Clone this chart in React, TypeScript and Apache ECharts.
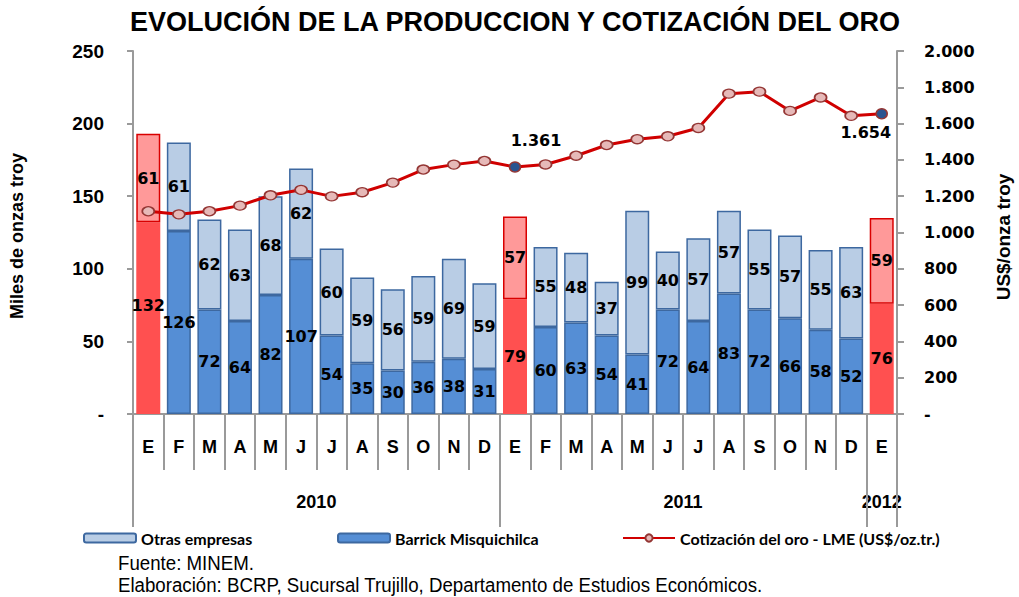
import React, { useEffect, useRef } from "react";
import * as echarts from "echarts";

const months = ["E","F","M","A","M","J","J","A","S","O","N","D","E","F","M","A","M","J","J","A","S","O","N","D","E"];
const years = ["2010", "2011", "2012"];
const barrick = [132,126,72,64,82,107,54,35,30,36,38,31,79,60,63,54,41,72,64,83,72,66,58,52,76];
const otras = [61,61,62,63,68,62,60,59,56,59,69,59,57,55,48,37,99,40,57,57,55,57,55,63,59];
const gold = [1117,1100,1117,1148,1205,1235,1199,1222,1275,1347,1374,1394,1361,1375,1423,1482,1514,1530,1576,1765,1776,1670,1744,1643,1654];
const labeledGold = [12, 24];

const title = "EVOLUCIÓN DE LA PRODUCCION Y COTIZACIÓN DEL ORO";
const leftName = "Miles de onzas troy";
const rightName = "US$/onza troy";
const sName = { otras: "Otras empresas", barrick: "Barrick Misquichilca", gold: "Cotización del oro - LME (US$/oz.tr.)" };
const source1 = "Fuente: MINEM.";
const source2 = "Elaboración: BCRP, Sucursal Trujillo, Departamento de Estudios Económicos.";

const fmt = (v: number) => {
  if (v === 0) return "-";
  if (v >= 1000) return Math.floor(v / 1000) + "." + String(v % 1000).padStart(3, "0");
  return String(v);
};

const categories = months.map((m, i) => m + "|" + i);

export default function App() {
  const ref = useRef<HTMLDivElement>(null);
  useEffect(() => {
    document.body.style.margin = "0";
    const chart = echarts.init(ref.current!, null, { renderer: "svg" });
    const isJan = (i: number) => months[i] === "E";
    const gray = "#9a9a9a";
    const barLabel = { show: true, position: "inside", fontFamily: "DejaVu Sans", fontWeight: "bold", fontSize: 16, color: "#000" };
    const legendText = { fontFamily: "Lato", fontWeight: "bold", fontSize: 16, color: "#000" };
    const option: any = {
      animation: false,
      grid: { left: 133, right: 122, top: 51, bottom: 183 },
      xAxis: [
        {
          type: "category", data: categories, position: "bottom",
          axisLine: { lineStyle: { color: gray, width: 2 } },
          axisTick: { show: true, interval: 0, length: 56, lineStyle: { color: gray, width: 2 } },
          axisLabel: { interval: 0, margin: 24, formatter: (v: string) => v.split("|")[0], fontFamily: "Liberation Sans, Arial", fontWeight: "bold", fontSize: 18, color: "#000" },
        },
        {
          type: "category", data: categories, position: "bottom",
          axisLine: { show: false },
          axisTick: { show: true, interval: (i: number) => i === 0 || i === 12 || i === 24, length: 113, lineStyle: { color: gray, width: 2 } },
          axisLabel: { show: false },
        },
      ],
      yAxis: [
        {
          type: "value", min: 0, max: 250, interval: 50,
          axisLine: { show: true, lineStyle: { color: gray, width: 2 } },
          axisTick: { show: true, length: 6, lineStyle: { color: gray, width: 2 } },
          splitLine: { show: false },
          axisLabel: { margin: 29, formatter: (v: number) => fmt(v), fontFamily: "Liberation Sans, Arial", fontWeight: "bold", fontSize: 19, color: "#000" },
        },
        {
          type: "value", min: 0, max: 2000, interval: 200, position: "right",
          axisLine: { show: true, lineStyle: { color: gray, width: 2 } },
          axisTick: { show: true, length: 7, lineStyle: { color: gray, width: 2 } },
          splitLine: { show: false },
          axisLabel: { margin: 27, formatter: (v: number) => fmt(v), fontFamily: "DejaVu Sans", fontWeight: "bold", fontSize: 16, color: "#000" },
        },
      ],
      legend: [
        { data: [sName.otras], left: 78, top: 525, itemWidth: 52, itemHeight: 9, itemGap: 0, textStyle: legendText },
        { data: [sName.barrick], left: 332, top: 525, itemWidth: 52, itemHeight: 9, itemGap: 0, textStyle: legendText },
        { data: [sName.gold], left: 617, top: 525, itemWidth: 52, itemHeight: 9, itemGap: 0, textStyle: legendText },
      ],
      series: [
        {
          name: sName.barrick, type: "bar", stack: "t", barWidth: 24,
          itemStyle: { color: "#558ed5", borderColor: "#3d68a0", borderWidth: 1.5 },
          label: barLabel,
          data: barrick.map((v, i) => isJan(i)
            ? { value: v, itemStyle: { color: "#ff5050", borderColor: "#ff5050" }, ...(i === 0 ? { label: { offset: [0, -13] } } : {}) }
            : v),
        },
        {
          name: sName.otras, type: "bar", stack: "t", barWidth: 24,
          itemStyle: { color: "#b9cde5", borderColor: "#3d68a0", borderWidth: 1.5 },
          label: barLabel,
          data: otras.map((v, i) => isJan(i) ? { value: v, itemStyle: { color: "#ff9999", borderColor: "#d90000" } } : v),
        },
        {
          name: sName.gold, type: "line", yAxisIndex: 1, z: 5,
          symbol: "circle", symbolSize: [12, 9],
          lineStyle: { color: "#d00000", width: 3 },
          itemStyle: { color: "#e6b9b8", borderColor: "#943634", borderWidth: 1.5 },
          label: { show: false },
          data: gold.map((v, i) => {
            if (!labeledGold.includes(i)) return v;
            const top = i === labeledGold[0];
            return {
              value: v,
              symbolSize: [11, 10],
              itemStyle: { color: "#2a5490", borderColor: "#943634" },
              label: {
                show: true, position: top ? "top" : "bottom", offset: top ? [21, -8] : [-16, 0],
                formatter: (p: any) => fmt(p.value), fontFamily: "DejaVu Sans", fontWeight: "bold", fontSize: 16, color: "#000",
              },
            };
          }),
        },
      ],
    };
    chart.setOption(option);
    const px = (i: number) => chart.convertToPixel({ xAxisIndex: 0 }, i) as number;
    const yearX = [(px(5) + px(6)) / 2, (px(17) + px(18)) / 2, px(24)];
    const txt = (text: string, x: number, y: number, extra: any = {}) => ({
      type: "text", x, y, ...extra,
      style: { text, fill: "#000", textAlign: "center", textVerticalAlign: "middle", fontFamily: "Liberation Sans, Arial", fontWeight: "bold", fontSize: 18, ...(extra.style || {}) },
    });
    chart.setOption({
      graphic: [
        txt(title, 515, 22, { style: { fontSize: 27 } }),
        txt(leftName, 17, 236, { rotation: Math.PI / 2, style: { fontSize: 18 } }),
        txt(rightName, 1003, 237, { rotation: Math.PI / 2, style: { fontSize: 19 } }),
        ...years.map((y, k) => txt(y, yearX[k], 502)),
        txt(source1, 118, 563, { scaleX: 0.89, style: { textAlign: "left", fontWeight: "normal", fontSize: 21 } }),
        txt(source2, 118, 585, { scaleX: 0.89, style: { textAlign: "left", fontWeight: "normal", fontSize: 21 } }),
      ],
    });
    return () => chart.dispose();
  }, []);
  return <div ref={ref} style={{ width: 1019, height: 597 }} />;
}
